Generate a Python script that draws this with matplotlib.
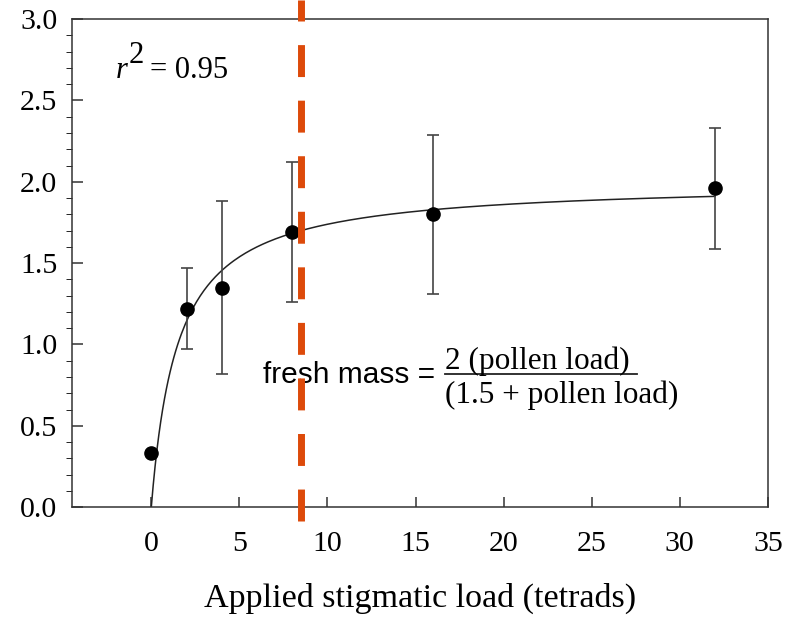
import numpy as np
import matplotlib
matplotlib.use("Agg")
import matplotlib.pyplot as plt
from matplotlib.ticker import MultipleLocator, FormatStrFormatter

plt.rcParams['font.family'] = ['Liberation Serif', 'DejaVu Serif']

# data
load = [0, 2, 4, 8, 16, 32]
mass = [0.33, 1.22, 1.35, 1.69, 1.80, 1.96]
err_lo = [0.0, 0.25, 0.53, 0.43, 0.49, 0.37]
err_hi = [0.0, 0.25, 0.53, 0.43, 0.49, 0.37]
cutoff = 8.5   # dashed marker line

fig = plt.figure(figsize=(7.88, 6.17), dpi=100)
ax = fig.add_axes([0.0914, 0.178, 0.883, 0.791])

# fitted curve: fresh mass = 2 L / (1.5 + L)
xf = np.linspace(0, 32, 300)
ax.plot(xf, 2 * xf / (1.5 + xf), color='#222222', lw=1.1, zorder=2)

ax.errorbar(load, mass, yerr=[err_lo, err_hi], fmt='o', color='black',
            ms=9.5, ecolor='#444444', elinewidth=1.2, capsize=4.5, capthick=1.2, zorder=3)

ax.plot([cutoff, cutoff], [-0.086, 3.12], color='#dd4a0a', lw=5,
        dashes=(4.6, 3.4), clip_on=False, zorder=5, solid_capstyle='butt')

ax.set_xlim(-4.5, 35)
ax.set_ylim(0, 3.0)
ax.set_xticks([0, 5, 10, 15, 20, 25, 30, 35])
ax.yaxis.set_major_locator(MultipleLocator(0.5))
ax.yaxis.set_minor_locator(MultipleLocator(0.1))
ax.yaxis.set_major_formatter(FormatStrFormatter('%.1f'))
ax.tick_params(axis='both', direction='in', labelsize=21.5, color='#333333', width=1.1)
ax.tick_params(axis='y', which='major', length=8, pad=10.5)
ax.tick_params(axis='y', which='minor', length=4)
ax.tick_params(axis='x', which='major', length=7, pad=17)
for s in ax.spines.values():
    s.set_linewidth(1.1)
    s.set_color('#333333')

ax.set_xlabel('Applied stigmatic load (tetrads)', fontsize=24.5, labelpad=19)

# r^2 label, with a full-size raised 2 as in the original
ax.text(-2.04, 2.637, 'r', fontsize=22, style='italic', va='baseline', ha='left')
ax.text(-1.30, 2.73, '2', fontsize=22, va='baseline', ha='left')
ax.text(-0.06, 2.637, '= 0.95', fontsize=22, va='baseline', ha='left')

ax.text(6.35, 0.81, 'fresh mass =', fontsize=21.5, va='center', ha='left',
        family=['Liberation Sans', 'DejaVu Sans'])
ax.text(16.7, 0.90, '2 (pollen load)', fontsize=22.5, va='center', ha='left')
ax.plot([16.7, 27.6], [0.82, 0.82], color='#222222', lw=1.3)
ax.text(16.7, 0.69, '(1.5 + pollen load)', fontsize=22.5, va='center', ha='left')

fig.savefig('out.png', dpi=100)
